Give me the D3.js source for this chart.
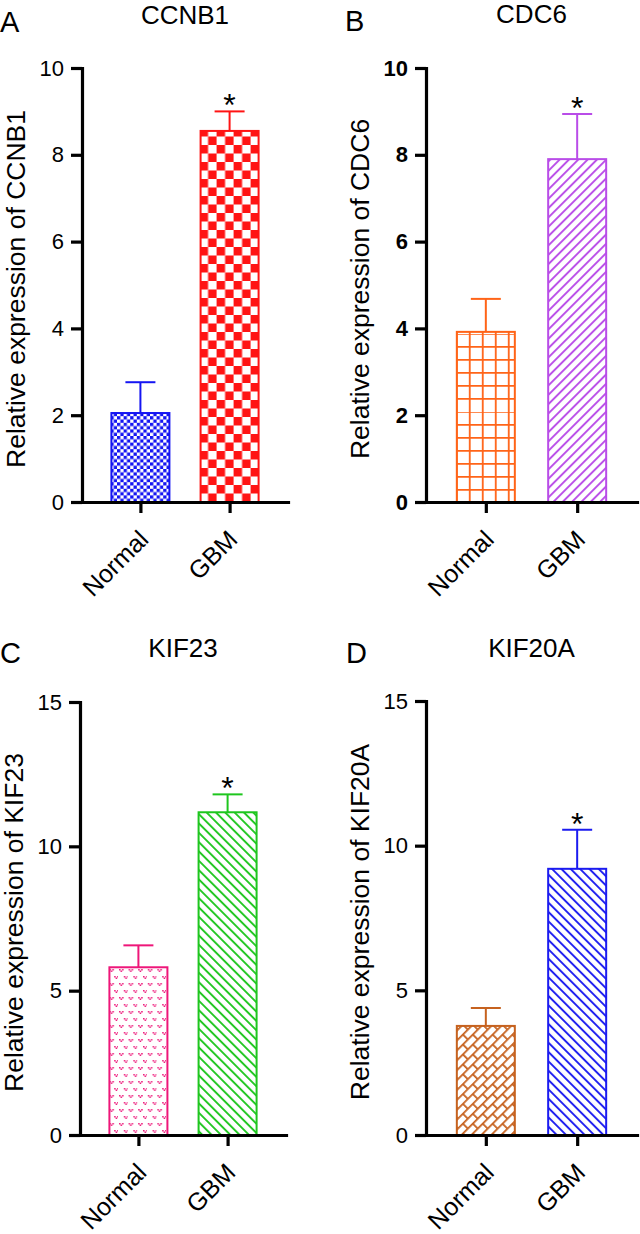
<!DOCTYPE html>
<html>
<head>
<meta charset="utf-8">
<script src="https://cdn.jsdelivr.net/npm/d3@7"></script>
<style>
  body { margin: 0; background: #fff; }
  svg { display: block; font-family: "Liberation Sans", Arial, sans-serif; }
</style>
</head>
<body>
<svg id="chart" width="640" height="1234"></svg>
<script>
// data
var groups = ['Normal', 'GBM'];
var genes = ['CCNB1', 'CDC6', 'KIF23', 'KIF20A'];
var panelLetters = ['A', 'B', 'C', 'D'];
var normalMeans = [2.05, 3.92, 5.81, 3.77];
var gbmMeans = [8.55, 7.90, 11.18, 9.20];
var normalErr = [0.71, 0.76, 0.76, 0.62];
var gbmErr = [0.45, 1.04, 0.62, 1.35];
var yMax = [10, 10, 15, 15];
var yTicks = [[0, 2, 4, 6, 8, 10], [0, 2, 4, 6, 8, 10], [0, 5, 10, 15], [0, 5, 10, 15]];
var starLabel = '*';

// layout of the 4 panels (pixels)
var panels = [
    { x0: 82, x1: 288, top: 68, bot: 502, lx: 0, ly: 32, ty: 24, bold: false },
    { x0: 426, x1: 637, top: 68, bot: 502, lx: 345, ly: 31, ty: 23, bold: true },
    { x0: 80, x1: 286, top: 702, bot: 1135, lx: 0, ly: 663, ty: 657, bold: false },
    { x0: 426, x1: 637, top: 701, bot: 1135, lx: 346, ly: 663, ty: 657, bold: false },
];

// fill style per bar: [normal, gbm]
var barStyles = [
    [{ kind: 'check', size: 3.3, color: '#1515f2' }, { kind: 'check', size: 8.5, color: '#ff1414' }],
    [{ kind: 'grid', size: 13, color: '#ff6418' }, { kind: 'hatch', angle: 45, color: '#b94ce8' }],
    [{ kind: 'dots', color: '#ee1679' }, { kind: 'hatch', angle: -45, color: '#1ec61e' }],
    [{ kind: 'brick', color: '#c6621f' }, { kind: 'hatch', angle: -45, color: '#1b1bf0' }],
];

var svg = d3.select('#chart');
var defs = svg.append('defs');
var barWidth = 60;

function makePattern(id, st, ox, oy) {
    var p, s;
    if (st.kind == 'check') {
        s = st.size;
        p = defs.append('pattern').attr('id', id)
            .attr('patternUnits', 'userSpaceOnUse')
            .attr('x', ox).attr('y', oy)
            .attr('width', 2 * s).attr('height', 2 * s);
        p.append('rect').attr('width', 2 * s).attr('height', 2 * s).attr('fill', '#fff');
        p.append('rect').attr('width', s).attr('height', s).attr('fill', st.color);
        p.append('rect').attr('x', s).attr('y', s).attr('width', s).attr('height', s).attr('fill', st.color);
    } else if (st.kind == 'grid') {
        s = st.size;
        p = defs.append('pattern').attr('id', id)
            .attr('patternUnits', 'userSpaceOnUse')
            .attr('x', ox).attr('y', oy)
            .attr('width', s).attr('height', s);
        p.append('rect').attr('width', s).attr('height', s).attr('fill', '#fff');
        p.append('path').attr('d', 'M0,0H' + s + 'M0,0V' + s)
            .attr('stroke', st.color).attr('stroke-width', 3.6).attr('fill', 'none');
    } else if (st.kind == 'hatch') {
        s = 6.6;
        p = defs.append('pattern').attr('id', id)
            .attr('patternUnits', 'userSpaceOnUse')
            .attr('x', ox).attr('y', oy)
            .attr('width', s).attr('height', s)
            .attr('patternTransform', 'rotate(' + st.angle + ')');
        p.append('rect').attr('width', s).attr('height', s).attr('fill', '#fff');
        p.append('line').attr('x1', 1).attr('x2', 1).attr('y1', 0).attr('y2', s)
            .attr('stroke', st.color).attr('stroke-width', 1.9);
    } else if (st.kind == 'dots') {
        p = defs.append('pattern').attr('id', id)
            .attr('patternUnits', 'userSpaceOnUse')
            .attr('x', ox).attr('y', oy)
            .attr('width', 9.6).attr('height', 14);
        p.append('rect').attr('width', 9.6).attr('height', 14).attr('fill', '#fff');
        var v = 'h1.5v1.5h-1.5z';
        [[1, 2], [5.8, 9]].forEach(function (o) {
            var x = o[0], y = o[1];
            p.append('path')
                .attr('d', 'M' + x + ',' + y + v + 'M' + (x + 3) + ',' + y + v +
                    'M' + (x + 1.5) + ',' + (y + 1.5) + v)
                .attr('fill', st.color);
        });
    } else if (st.kind == 'brick') {
        p = defs.append('pattern').attr('id', id)
            .attr('patternUnits', 'userSpaceOnUse')
            .attr('x', ox).attr('y', oy)
            .attr('width', 14).attr('height', 14)
            .attr('patternTransform', 'rotate(-45)');
        p.append('rect').attr('width', 14).attr('height', 14).attr('fill', '#fff');
        p.append('path').attr('d', 'M0,0.9H14M0,7.9H14M0.9,0V7M7.9,7V14')
            .attr('stroke', st.color).attr('stroke-width', 1.8).attr('fill', 'none');
    }
}

panels.forEach(function (pn, i) {
    var g = svg.append('g');
    var means = [normalMeans[i], gbmMeans[i]];
    var errs = [normalErr[i], gbmErr[i]];

    var x = d3.scalePoint().domain(groups).range([pn.x0, pn.x1]).padding(0.655);
    var y = d3.scaleLinear().domain([0, yMax[i]]).range([pn.bot, pn.top]);

    var rows = groups.map(function (k, j) {
        return { group: k, mean: means[j], err: errs[j], style: barStyles[i][j], id: 'pat' + i + '_' + j };
    });

    rows.forEach(function (d) {
        makePattern(d.id, d.style, x(d.group) - barWidth / 2, y(0));
    });

    // bars
    g.selectAll('rect.bar').data(rows).enter().append('rect')
        .attr('class', 'bar')
        .attr('x', d => x(d.group) - barWidth / 2 + 1)
        .attr('y', d => y(d.mean))
        .attr('width', barWidth - 2)
        .attr('height', d => y(0) - y(d.mean))
        .attr('fill', d => 'url(#' + d.id + ')')
        .attr('stroke', d => d.style.color)
        .attr('stroke-width', 2);

    // error bars (upper only)
    var eb = g.selectAll('g.err').data(rows).enter().append('g').attr('class', 'err')
        .attr('stroke', d => d.style.color).attr('stroke-width', 2).attr('fill', 'none');
    eb.append('line')
        .attr('x1', d => x(d.group)).attr('x2', d => x(d.group))
        .attr('y1', d => y(d.mean)).attr('y2', d => y(d.mean + d.err));
    eb.append('line')
        .attr('x1', d => x(d.group) - 15).attr('x2', d => x(d.group) + 15)
        .attr('y1', d => y(d.mean + d.err)).attr('y2', d => y(d.mean + d.err));

    // significance star on GBM
    g.append('text')
        .attr('x', x('GBM'))
        .attr('y', y(gbmMeans[i] + gbmErr[i]) + 5)
        .attr('text-anchor', 'middle')
        .attr('font-size', 32)
        .text(starLabel);

    // y axis
    var ya = g.append('g').attr('transform', 'translate(' + pn.x0 + ',0)')
        .call(d3.axisLeft(y).tickValues(yTicks[i]).tickSize(11).tickSizeOuter(0).tickPadding(7));
    ya.selectAll('path, line').attr('stroke', '#000').attr('stroke-width', 3.2);
    ya.select('path.domain').attr('stroke-linecap', 'square');
    ya.selectAll('text')
        .attr('font-family', '"Liberation Sans", Arial, sans-serif')
        .attr('font-size', 22)
        .attr('font-weight', pn.bold ? 'bold' : 'normal')
        .attr('fill', '#000');

    // x axis
    var xa = g.append('g').attr('transform', 'translate(0,' + pn.bot + ')')
        .call(d3.axisBottom(x).tickSize(11).tickSizeOuter(0));
    xa.selectAll('path, line').attr('stroke', '#000').attr('stroke-width', 3.2);
    xa.select('path.domain').attr('stroke-linecap', 'square');
    xa.selectAll('text')
        .attr('font-family', '"Liberation Sans", Arial, sans-serif')
        .attr('font-size', 25)
        .attr('fill', '#000')
        .attr('text-anchor', 'end')
        .attr('x', 0).attr('y', 0).attr('dy', 0)
        .attr('transform', 'translate(9,39) rotate(-45)');

    // y label
    g.append('text')
        .attr('transform', 'translate(' + (pn.x0 - 57) + ',' + ((pn.top + pn.bot) / 2 + 4) + ') rotate(-90)')
        .attr('text-anchor', 'middle')
        .attr('font-size', 26.5)
        .text('Relative expression of ' + genes[i]);

    // title
    g.append('text')
        .attr('x', (pn.x0 + pn.x1) / 2)
        .attr('y', pn.ty)
        .attr('text-anchor', 'middle')
        .attr('font-size', 26)
        .text(genes[i]);

    // panel letter
    g.append('text')
        .attr('x', pn.lx)
        .attr('y', pn.ly)
        .attr('font-size', 29)
        .text(panelLetters[i]);
});
</script>
</body>
</html>
